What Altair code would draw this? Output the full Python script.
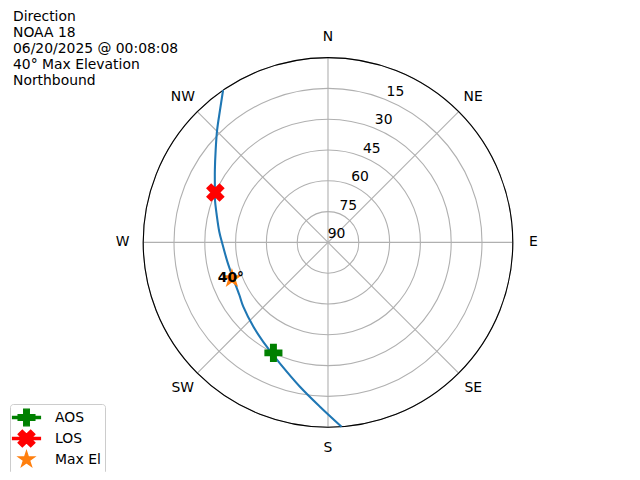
import math
import altair as alt
import pandas as pd

# ---------------- data ----------------
TRACK_AZ = [175.8, 182.8, 191.0, 201.7, 210.4, 221.5, 232.8, 239.3, 249.2, 259.2,
            268.6, 275.6, 283.8, 290.6, 296.2, 302.6, 309.4, 315.4, 320.8, 325.4]
TRACK_EL = [0.0, 9.9, 18.4, 26.6, 31.1, 35.2, 38.2, 39.8, 40.6, 40.1,
            38.7, 36.8, 34.2, 31.2, 28.6, 24.6, 19.2, 13.1, 6.8, 0.0]
EVENT_NAMES = ["AOS", "LOS", "Max El"]
EVENT_AZ = [206.3, 293.9, 249.4]
EVENT_EL = [30.0, 30.0, 40.0]
EVENT_COLORS = ["#008000", "#ff0000", "#ff7f0e"]
MAX_EL_LABEL = "40°"
RING_EL = [0, 15, 30, 45, 60, 75]
RADIAL_TICK_EL = [15, 30, 45, 60, 75, 90]
RLABEL_AZ = 22.5
SPOKE_AZ = [0, 45, 90, 135, 180, 225, 270, 315]
COMPASS = ["N", "NE", "E", "SE", "S", "SW", "W", "NW"]
INFO_LINES = ["Direction", "NOAA 18", "06/20/2025 @ 00:08:08",
              "40° Max Elevation", "Northbound"]

# ---------------- layout ----------------
W, H = 624, 464
CX, CY = 320.0, 234.4
R_PX = 184.8
K = R_PX / 90.0
XDOM = [-CX / K, (W - CX) / K]
YDOM = [-(H - CY) / K, CY / K]
FONT = "DejaVu Sans"
FS = 13.9

xs = alt.Scale(domain=XDOM, nice=False, zero=False)
ys = alt.Scale(domain=YDOM, nice=False, zero=False)
X = alt.X("x:Q", scale=xs, axis=None)
Y = alt.Y("y:Q", scale=ys, axis=None)
X2 = alt.X2("x2:Q")
Y2 = alt.Y2("y2:Q")

XE = "(90 - datum.el) * sin(datum.az * PI / 180)"
YE = "(90 - datum.el) * cos(datum.az * PI / 180)"

# marker paths (unit coordinates, span -1..1)
PLUS = ("M-0.333,-1L0.333,-1L0.333,-0.333L1,-0.333L1,0.333L0.333,0.333L0.333,1"
        "L-0.333,1L-0.333,0.333L-1,0.333L-1,-0.333L-0.333,-0.333Z")
XMARK = ("M-0.5,-1L0,-0.5L0.5,-1L1,-0.5L0.5,0L1,0.5L0.5,1L0,0.5L-0.5,1L-1,0.5"
         "L-0.5,0L-1,-0.5Z")
pts = []
for k in range(10):
    r = 1.0 if k % 2 == 0 else 0.381966
    a = math.radians(-90 + 36 * k)
    pts.append(f"{r * math.cos(a):.4f},{r * math.sin(a):.4f}")
STAR = "M" + "L".join(pts) + "Z"
LINE = "M-1.668,-0.125H1.668V0.125H-1.668Z"

leg = alt.Legend(
    title=None, orient="none", legendX=2, legendY=396,
    padding=4, rowPadding=-2.7, symbolOffset=3, labelOffset=19,
    strokeColor="#cccccc", fillColor="rgba(255,255,255,0.8)", cornerRadius=3,
    labelFont=FONT, labelFontSize=FS, labelColor="black", symbolSize=278,
    symbolStrokeWidth=1.39, symbolOpacity=1,
)

# ---------------- layers ----------------
rings_df = pd.DataFrame({"el": RING_EL})
rings = alt.Chart(rings_df).transform_calculate(
    x="0", y="0", s=f"pow(2 * (90 - datum.el) * {K}, 2)"
).mark_point(shape="circle", filled=False, stroke="#b0b0b0", strokeWidth=1.1,
             opacity=1).encode(x=X, y=Y, size=alt.Size("s:Q", scale=None))

spokes_df = pd.DataFrame({"az": SPOKE_AZ})
spokes = alt.Chart(spokes_df).transform_calculate(
    x="0", y="0", x2="90 * sin(datum.az * PI / 180)", y2="90 * cos(datum.az * PI / 180)"
).mark_rule(stroke="#b0b0b0", strokeWidth=1.1).encode(x=X, y=Y, x2=X2, y2=Y2)

spine_df = pd.DataFrame({"el": [RING_EL[0]]})
spine = alt.Chart(spine_df).transform_calculate(
    x="0", y="0", s=f"pow(2 * (90 - datum.el) * {K}, 2)"
).mark_point(shape="circle", filled=False, stroke="black", strokeWidth=1.1,
             opacity=1).encode(x=X, y=Y, size=alt.Size("s:Q", scale=None))

rlab_df = pd.DataFrame({"el": RADIAL_TICK_EL, "lab": [str(v) for v in RADIAL_TICK_EL]})
rlabels = alt.Chart(rlab_df).transform_calculate(
    az=str(RLABEL_AZ)
).transform_calculate(x=XE, y=YE).mark_text(
    font=FONT, fontSize=FS, color="black", align="center", baseline="middle",
    dx=8.5, dy=-8.4
).encode(x=X, y=Y, text="lab:N")

comp_df = pd.DataFrame({"az": SPOKE_AZ, "lab": COMPASS})
compass = alt.Chart(comp_df).transform_calculate(
    x="100 * sin(datum.az * PI / 180)", y="100 * cos(datum.az * PI / 180)"
).mark_text(font=FONT, fontSize=FS, color="black", align="center",
            baseline="middle").encode(x=X, y=Y, text="lab:N")

track_df = pd.DataFrame({"az": TRACK_AZ, "el": TRACK_EL, "i": range(len(TRACK_AZ))})
track = alt.Chart(track_df).transform_calculate(x=XE, y=YE).mark_line(
    color="#1f77b4", strokeWidth=2.08, interpolate="catmull-rom"
).encode(x=X, y=Y, order="i:Q")

ev_df = pd.DataFrame({"name": EVENT_NAMES, "az": EVENT_AZ, "el": EVENT_EL})
cscale = alt.Scale(domain=EVENT_NAMES, range=EVENT_COLORS)
events = alt.Chart(ev_df).transform_calculate(x=XE, y=YE).mark_point(
    filled=True, opacity=1, size=278, strokeWidth=1.39
).encode(
    x=X, y=Y,
    color=alt.Color("name:N", scale=cscale, legend=None),
    shape=alt.Shape("name:N", scale=alt.Scale(domain=EVENT_NAMES, range=[PLUS, XMARK, STAR]), legend=None),
    stroke=alt.Stroke("name:N", scale=cscale, legend=None),
)

# legend-only layer (no marks drawn; entries come from the scale domain)
legend_layer = alt.Chart(ev_df).transform_filter("false").transform_calculate(
    x=XE, y=YE
).mark_point(filled=True, opacity=1, size=278, strokeWidth=1.39).encode(
    x=X, y=Y,
    color=alt.Color("name:N", scale=cscale, legend=leg),
    shape=alt.Shape("name:N", scale=alt.Scale(
        domain=EVENT_NAMES, range=[LINE + PLUS, LINE + XMARK, STAR]), legend=leg),
    stroke=alt.Stroke("name:N", scale=cscale, legend=leg),
)

maxlab_df = pd.DataFrame({"az": [EVENT_AZ[2]], "el": [EVENT_EL[2]], "lab": [MAX_EL_LABEL]})
maxlab = alt.Chart(maxlab_df).transform_calculate(x=XE, y=YE).mark_text(
    font=FONT, fontSize=FS, fontWeight="bold", color="black", align="center",
    baseline="middle", dx=-1, dy=-1
).encode(x=X, y=Y, text="lab:N")

info = alt.Chart(alt.Data(values=[{}])).mark_text(
    font=FONT, fontSize=FS, color="black", align="left", baseline="alphabetic",
    lineHeight=16.1, text=INFO_LINES
).encode(x=alt.value(5), y=alt.value(12.5))

chart = alt.layer(rings, spokes, rlabels, compass, spine, track, events, legend_layer,
                  maxlab, info).resolve_scale(
    color="independent", shape="independent", stroke="independent"
).properties(
    width=W, height=H, padding=0, autosize=alt.AutoSizeParams(type="none")
).configure(font=FONT, view=alt.ViewConfig(stroke=None))

chart.save("out.html", embed_options={"renderer": "svg", "actions": False})
